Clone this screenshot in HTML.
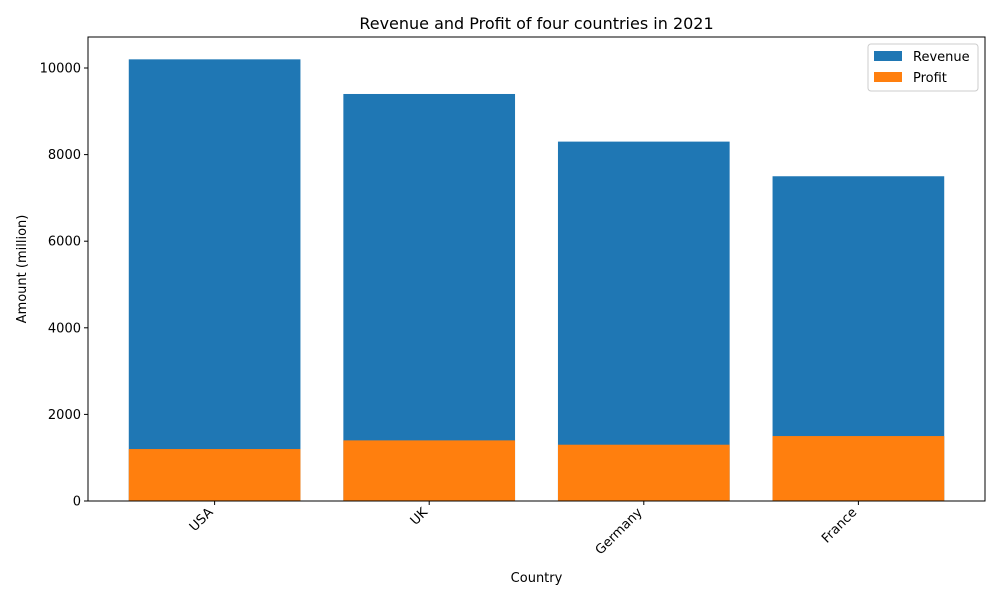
<!DOCTYPE html>
<html><head><meta charset="utf-8"><style>
body{margin:0;background:#fff;font-family:"Liberation Sans","DejaVu Sans",sans-serif}
</style></head><body>
<svg id="chart" width="1000" height="600" xmlns="http://www.w3.org/2000/svg" font-family="DejaVu Sans, Liberation Sans, sans-serif">
<rect width="1000" height="600" fill="#fff"/>
<text x="536.5" y="29" text-anchor="middle" font-size="16">Revenue and Profit of four countries in 2021</text>
<g id="bars"></g>
<g id="axes"></g>
<text x="536.5" y="582" text-anchor="middle" font-size="13">Country</text>
<text transform="translate(26,269) rotate(-90)" text-anchor="middle" font-size="13">Amount (million)</text>
<g>
<rect x="868" y="44" width="110" height="47" fill="#fff" stroke="#ccc" rx="3"/>
<rect x="874" y="51" width="28" height="10" fill="#1f77b4"/>
<text x="913" y="61" font-size="13">Revenue</text>
<rect x="874" y="72" width="28" height="10" fill="#ff7f0e"/>
<text x="913" y="82" font-size="13">Profit</text>
</g>
</svg>
<script>
const categories=["USA","UK","Germany","France"];
const revenue=[10200,9400,8300,7500];
const profit=[1200,1400,1300,1500];
const yTicks=[0,2000,4000,6000,8000,10000];
const L=88,R=985,T=37,B=501,ymax=10716,xmin=-0.59,xmax=3.59;
const ns="http://www.w3.org/2000/svg";
const X=v=>L+(v-xmin)/(xmax-xmin)*(R-L);
const Y=v=>B-v/ymax*(B-T);
const bw=0.8*(R-L)/(xmax-xmin);
function mk(t,a,p){const e=document.createElementNS(ns,t);for(const k in a)e.setAttribute(k,a[k]);p.appendChild(e);return e;}
const bars=document.getElementById('bars'),axes=document.getElementById('axes');
categories.forEach((c,i)=>{
 let r=mk('rect',{x:X(i)-bw/2,y:Y(revenue[i]),width:bw,height:B-Y(revenue[i]),fill:'#1f77b4'},bars);
 
 
 let p=mk('rect',{x:X(i)-bw/2,y:Y(profit[i]),width:bw,height:B-Y(profit[i]),fill:'#ff7f0e'},bars);
 
 
 mk('line',{x1:X(i),x2:X(i),y1:B,y2:B+4,stroke:'#000'},axes);
 let t=mk('text',{transform:`translate(${X(i)-1},${B+12}) rotate(-45)`,'text-anchor':'end','font-size':13},axes);
 t.textContent=c;
 
 
});
yTicks.forEach(v=>{
 mk('line',{x1:L-4,x2:L,y1:Y(v),y2:Y(v),stroke:'#000'},axes);
 let t=mk('text',{x:L-7,y:Y(v)+4.5,'text-anchor':'end','font-size':13},axes);
 t.textContent=v;
 
 
});
let f=mk('rect',{x:L,y:T,width:R-L,height:B-T,fill:'none',stroke:'#000','stroke-width':1},axes);


</script>
</body></html>
